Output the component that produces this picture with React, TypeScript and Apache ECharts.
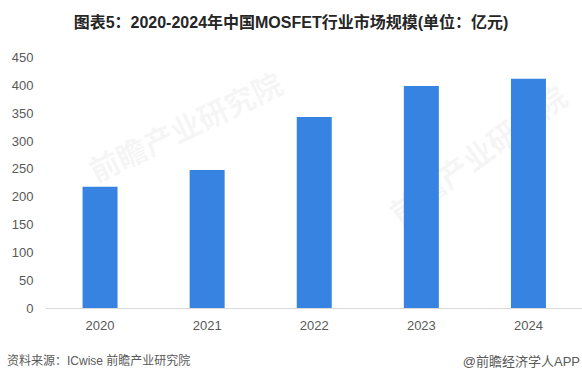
import React, { useEffect, useRef } from "react";
import * as echarts from "echarts";

const categories = ["2020", "2021", "2022", "2023", "2024"];
const values = [218, 248, 343, 399, 412];
const titleText = "图表5：2020-2024年中国MOSFET行业市场规模(单位：亿元)";
const sourceText = "资料来源：ICwise 前瞻产业研究院";
const brandText = "@前瞻经济学人APP";

const FONT = "Arial, 'Liberation Sans', 'Noto Sans CJK SC', sans-serif";

export default function App() {
  const ref = useRef<HTMLDivElement>(null);
  useEffect(() => {
    if (!ref.current) return;
    const chart = echarts.init(ref.current, undefined, { renderer: "svg" });
    chart.setOption({
      animation: false,
      backgroundColor: "#ffffff",
      textStyle: { fontFamily: FONT },
      title: {
        text: titleText,
        left: "center",
        top: 9,
        textStyle: { fontSize: 16, fontWeight: "bold", color: "#262626", fontFamily: FONT },
      },
      grid: { left: 46.5, top: 57.5, width: 550, height: 250.5, containLabel: false },
      xAxis: {
        type: "category",
        data: categories,
        axisLine: { show: true, lineStyle: { color: "#d9d9d9", width: 1 } },
        axisTick: { show: false },
        axisLabel: { color: "#595959", fontSize: 13, margin: 11, fontFamily: FONT },
      },
      yAxis: {
        type: "value",
        min: 0,
        max: 450,
        interval: 50,
        axisLine: { show: false },
        axisTick: { show: false },
        splitLine: { show: false },
        axisLabel: { color: "#595959", fontSize: 13, margin: 13, fontFamily: FONT },
      },
      series: [
        {
          type: "bar",
          data: values,
          barWidth: 35,
          itemStyle: { color: "#3783e2" },
        },
      ],
      graphic: [
        {
          type: "text",
          left: 7,
          top: 355,
          style: { text: sourceText, fontSize: 12, fill: "#595959", fontFamily: FONT },
        },
        {
          type: "text",
          right: 2,
          top: 355,
          style: { text: brandText, fontSize: 13, fill: "#595959", fontFamily: FONT },
        },
        {
          type: "text",
          x: 85,
          y: 160,
          rotation: Math.PI / 7,
          z: -1,
          style: { text: "前瞻产业研究院", fontSize: 30, fill: "rgba(180,180,190,0.12)", fontFamily: FONT, fontWeight: "bold" },
        },
        {
          type: "text",
          x: 385,
          y: 205,
          rotation: Math.PI / 5,
          z: -1,
          style: { text: "前瞻产业研究院", fontSize: 30, fill: "rgba(180,180,190,0.12)", fontFamily: FONT, fontWeight: "bold" },
        },
      ],
    });
    return () => chart.dispose();
  }, []);
  return (
    <div
      ref={ref}
      style={{ position: "fixed", left: 0, top: 0, width: 582, height: 384, background: "#fff" }}
    />
  );
}
